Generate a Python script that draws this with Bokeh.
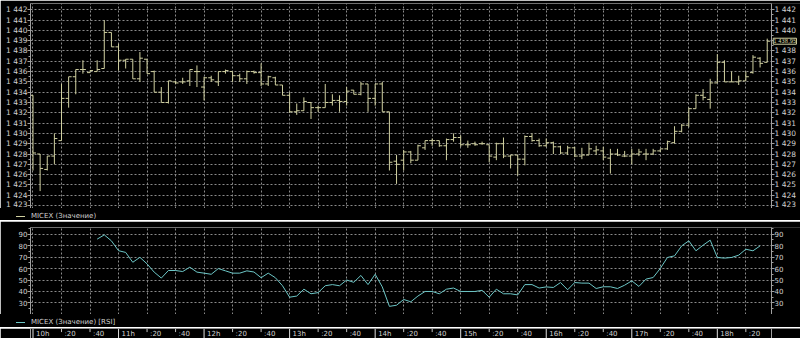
from bokeh.plotting import figure
from bokeh.layouts import column
from bokeh.models import (LinearAxis, FixedTicker, Grid, Label, Div, BoxAnnotation,
                          Range1d, ColumnDataSource)
from bokeh.embed import file_html
from bokeh.resources import INLINE
from bokeh.core.properties import value

# ---------------- data (5-minute bars, 10:00 .. 18:35) ----------------
opens = [1433.7, 1428.0, 1426.5, 1427.8, 1429.3, 1433.4, 1435.5, 1436.2, 1435.9, 1436.0,
         1436.3, 1439.8, 1438.4, 1437.1, 1437.2, 1435.3, 1437.2, 1436.0, 1434.0, 1433.0,
         1435.0, 1435.0, 1435.1, 1436.0, 1434.5, 1435.4, 1435.0, 1436.0, 1436.0, 1435.6,
         1435.3, 1436.0, 1435.9, 1434.8, 1435.4, 1434.7, 1433.7, 1432.1, 1432.2, 1433.0,
         1432.5, 1432.5, 1433.0, 1433.2, 1433.1, 1434.2, 1433.8, 1434.8, 1433.4, 1434.8,
         1432.1, 1427.3, 1427.4, 1428.2, 1427.4, 1428.6, 1429.3, 1429.3, 1428.8, 1429.4,
         1429.6, 1428.9, 1429.0, 1429.0, 1428.9, 1427.7, 1429.0, 1427.8, 1427.9, 1427.5,
         1429.7, 1429.3, 1428.8, 1429.1, 1428.7, 1428.1, 1428.6, 1427.8, 1427.9, 1428.3,
         1428.3, 1427.6, 1428.0, 1427.8, 1427.8, 1428.0, 1428.0, 1428.0, 1428.3, 1428.5,
         1429.1, 1430.2, 1430.8, 1432.4, 1433.7, 1433.3, 1434.9, 1436.9, 1435.0, 1435.0,
         1435.1, 1435.9, 1437.3, 1436.9]
highs = [1433.7, 1428.0, 1427.8, 1430.0, 1434.8, 1435.5, 1436.2, 1437.1, 1436.1, 1437.1,
         1441.0, 1439.8, 1438.7, 1437.2, 1437.2, 1437.9, 1437.2, 1436.1, 1434.5, 1435.1,
         1435.1, 1435.4, 1436.2, 1436.6, 1435.5, 1435.6, 1436.0, 1436.2, 1436.0, 1435.8,
         1436.1, 1436.1, 1436.8, 1435.6, 1435.5, 1434.7, 1434.0, 1432.9, 1433.5, 1433.0,
         1432.7, 1434.8, 1433.8, 1433.7, 1434.5, 1434.2, 1435.0, 1434.8, 1434.8, 1435.0,
         1432.1, 1427.9, 1428.4, 1428.3, 1428.9, 1429.3, 1429.5, 1429.3, 1429.5, 1430.0,
         1429.8, 1429.3, 1429.2, 1429.2, 1428.9, 1429.1, 1429.6, 1427.9, 1427.9, 1429.8,
         1430.0, 1429.5, 1429.5, 1429.2, 1428.8, 1428.8, 1428.7, 1428.6, 1429.1, 1428.8,
         1428.7, 1428.5, 1428.5, 1428.3, 1428.5, 1428.5, 1428.5, 1428.5, 1428.5, 1429.3,
         1430.7, 1430.9, 1432.5, 1433.8, 1434.3, 1435.3, 1437.7, 1437.1, 1436.0, 1435.6,
         1436.0, 1437.6, 1437.4, 1439.2]
lows = [1426.4, 1424.4, 1426.4, 1427.0, 1429.3, 1432.5, 1433.8, 1435.8, 1435.9, 1436.0,
        1436.3, 1438.4, 1436.1, 1436.3, 1435.3, 1435.0, 1435.8, 1434.0, 1433.0, 1432.9,
        1434.8, 1434.8, 1434.6, 1434.5, 1433.2, 1435.0, 1434.6, 1435.8, 1435.0, 1435.0,
        1434.8, 1435.8, 1434.6, 1434.6, 1434.7, 1433.7, 1432.0, 1431.8, 1432.2, 1431.4,
        1432.1, 1432.5, 1432.7, 1432.1, 1432.7, 1433.8, 1433.7, 1432.1, 1432.7, 1432.1,
        1426.4, 1425.1, 1426.4, 1427.1, 1427.4, 1428.4, 1428.8, 1428.7, 1427.4, 1429.2,
        1428.7, 1428.6, 1428.8, 1428.9, 1427.2, 1427.4, 1427.6, 1426.6, 1425.9, 1426.9,
        1429.2, 1428.7, 1428.7, 1428.0, 1428.0, 1427.9, 1427.7, 1427.5, 1427.9, 1427.9,
        1427.4, 1426.1, 1427.8, 1427.7, 1427.0, 1427.8, 1427.4, 1427.9, 1428.2, 1428.4,
        1429.0, 1430.1, 1430.6, 1432.4, 1433.2, 1432.4, 1434.9, 1435.0, 1435.0, 1434.7,
        1435.1, 1435.8, 1436.4, 1436.9]
closes = [1428.1, 1426.6, 1427.8, 1429.5, 1433.4, 1435.5, 1436.2, 1436.2, 1436.1, 1436.2,
          1439.8, 1438.4, 1437.1, 1437.2, 1435.3, 1437.3, 1435.8, 1434.0, 1433.0, 1435.1,
          1434.9, 1435.0, 1436.2, 1436.0, 1435.4, 1435.2, 1436.0, 1436.1, 1435.6, 1435.3,
          1436.0, 1435.9, 1434.8, 1435.5, 1434.7, 1433.7, 1432.1, 1432.2, 1433.1, 1432.5,
          1432.5, 1433.0, 1433.2, 1433.1, 1434.1, 1433.8, 1434.8, 1433.4, 1434.8, 1432.1,
          1427.2, 1427.0, 1428.2, 1427.4, 1428.8, 1429.3, 1429.3, 1428.8, 1429.4, 1429.6,
          1428.9, 1428.9, 1428.9, 1429.0, 1427.8, 1429.0, 1427.8, 1427.9, 1427.5, 1429.7,
          1429.3, 1428.8, 1429.1, 1428.7, 1428.1, 1428.6, 1427.8, 1427.9, 1428.5, 1428.4,
          1427.7, 1428.0, 1427.9, 1427.8, 1428.0, 1428.2, 1428.0, 1428.3, 1428.5, 1429.2,
          1430.2, 1430.8, 1432.4, 1433.7, 1433.5, 1434.9, 1436.9, 1435.0, 1435.0, 1435.1,
          1435.5, 1437.4, 1436.8, 1438.95]

rsi_start = 9
rsi_values = [85.7, 89.4, 84.2, 75.6, 74.1, 65.5, 69.8, 64.1, 56.9, 51.7,
              58.3, 58.3, 57.4, 61.2, 56.9, 56.0, 55.0, 60.0, 58.0, 56.0,
              56.0, 58.0, 57.0, 52.0, 56.0, 52.0, 45.0, 35.0, 36.0, 42.0,
              38.0, 39.0, 45.0, 46.0, 45.0, 50.0, 48.0, 54.0, 46.0, 55.0,
              44.0, 27.0, 28.0, 33.0, 31.0, 36.0, 40.0, 40.0, 38.0, 42.0,
              43.0, 40.0, 40.0, 40.0, 41.0, 35.0, 42.0, 38.0, 38.0, 37.0,
              46.0, 46.0, 43.0, 44.0, 43.5, 47.8, 41.5, 47.8, 47.3, 47.3,
              42.6, 44.1, 44.1, 42.6, 45.5, 49.3, 44.4, 50.8, 52.2, 60.1,
              69.7, 71.1, 79.8, 84.2, 75.5, 80.4, 84.8, 69.7, 69.1, 69.7,
              71.7, 76.9, 75.5, 79.8]

price_ticks = list(range(1423, 1443))
rsi_ticks = [30, 40, 50, 60, 70, 80, 90]
time_labels = ["10h", ":20", ":40", "11h", ":20", ":40", "12h", ":20", ":40",
               "13h", ":20", ":40", "14h", ":20", ":40", "15h", ":20", ":40",
               "16h", ":20", ":40", "17h", ":20", ":40", "18h", ":20"]
bars_per_label = 4  # 20 minutes of 5-minute bars

series_name = "MICEX (Значение)"
rsi_name = "MICEX (Значение) [RSI]"
last_label = "1 438,95"

# ---------------- style ----------------
BG = "#000000"
BAR = "#d0d0a0"
RSI_C = "#6cc6c6"
GRID_C = "#8a8a8a"
FRAME = "#a0a0a0"
TXT = "#d0d0d0"
FONT = "DejaVu Sans"

n = len(closes)
idx = list(range(n))
tick_pos = [k * bars_per_label for k in range(len(time_labels))]

# x mapping: plotting area 30..771 px, right-hand label strip 771..800 px
X_LO = -0.35
X_EDGE = 103.6
X_HI = X_LO + (X_EDGE - X_LO) * 770.0 / 741.0
xr = Range1d(X_LO, X_HI)


def fmt_price(v):
    s = str(v)
    return s[0] + " " + s[1:]


def make_fig(height, yr, top):
    p = figure(width=800, height=height, x_range=xr, y_range=yr,
               output_backend="svg", toolbar_location=None,
               x_axis_location=None, y_axis_location=None,
               background_fill_color=BG, border_fill_color=BG,
               outline_line_color=None,
               min_border_left=30, min_border_right=0,
               min_border_top=top, min_border_bottom=0)
    for g in p.grid:
        g.visible = False
    return p


def line_axis(loc, bounds=None):
    kw = dict(ticker=FixedTicker(ticks=[]), axis_line_color=FRAME,
              major_tick_out=0, major_tick_in=0, minor_tick_out=0, minor_tick_in=0,
              major_label_text_font_size="0px")
    if loc is not None:
        kw["fixed_location"] = loc
    if bounds is not None:
        kw["bounds"] = bounds
    return LinearAxis(**kw)


def add_borders(p, y_lo, y_hi, left_axis=True):
    p.add_layout(line_axis(y_hi, (X_LO, X_EDGE)), "above")
    p.add_layout(line_axis(y_lo, (X_LO, X_EDGE)), "below")
    if left_axis:
        p.add_layout(line_axis(None), "left")
    p.add_layout(line_axis(X_EDGE), "right")


def add_axes(p, ticks, minor, overrides_l, overrides_r, fs):
    for side, ov in (("left", overrides_l), ("right", overrides_r)):
        kw = dict(ticker=FixedTicker(ticks=ticks, minor_ticks=minor),
                  major_label_overrides=ov,
                  axis_line_color=FRAME, major_tick_line_color=FRAME,
                  minor_tick_line_color=FRAME,
                  major_tick_out=3, major_tick_in=0,
                  minor_tick_out=2, minor_tick_in=0,
                  major_label_standoff=0,
                  major_label_text_color=TXT,
                  major_label_text_font=FONT,
                  major_label_text_font_size=fs)
        if side == "right":
            kw["fixed_location"] = X_EDGE
        p.add_layout(LinearAxis(**kw), side)


def add_grids(p, yticks):
    p.add_layout(Grid(dimension=0, ticker=FixedTicker(ticks=tick_pos),
                      grid_line_color=GRID_C, grid_line_dash="2 2"))
    p.add_layout(Grid(dimension=1, ticker=FixedTicker(ticks=yticks),
                      grid_line_color=GRID_C, grid_line_dash="2 2"))
    # keep the right-hand label strip clear of grid dots
    p.add_layout(BoxAnnotation(left=X_EDGE, fill_color=BG, fill_alpha=1.0,
                               line_color=None, level="underlay"))


def legend_row(height, label, color, pad_top):
    html = ('<div style="background:#000;color:%s;font-family:\'DejaVu Sans\';'
            'font-size:7px;line-height:%dpx;height:%dpx;padding-top:%dpx;'
            'width:800px;white-space:nowrap;overflow:hidden;box-sizing:border-box">'
            '<span style="display:inline-block;width:9px;height:0;'
            'border-top:1px solid %s;vertical-align:middle;margin-left:16px;'
            'margin-right:6px"></span>%s</div>'
            % (TXT, height - pad_top, height, pad_top, color, label))
    return Div(text=html, width=800, height=height, margin=0,
               styles={"background-color": "#000000"})


# ---------------- price panel ----------------
PY_LO, PY_HI = 1422.71, 1442.61
p1 = make_fig(208, Range1d(PY_LO, PY_HI), 3)
add_grids(p1, price_ticks)
add_borders(p1, PY_LO, PY_HI, left_axis=False)
lab_l = {t: fmt_price(t) for t in price_ticks}
lab_r = {t: (fmt_price(t) if t != 1439 else "") for t in price_ticks}
add_axes(p1, price_ticks, [t + 0.5 for t in price_ticks[:-1]], lab_l, lab_r, "7.5px")

src = ColumnDataSource(dict(x=idx, o=opens, h=highs, l=lows, c=closes,
                            xl=[i - 0.42 for i in idx], xr=[i + 0.42 for i in idx]))
p1.segment(x0="x", y0="l", x1="x", y1="h", source=src, line_color=BAR, line_width=1)
p1.segment(x0="xl", y0="o", x1="x", y1="o", source=src, line_color=BAR, line_width=1)
p1.segment(x0="x", y0="c", x1="xr", y1="c", source=src, line_color=BAR, line_width=1)

p1.add_layout(Label(x=idx[-1], y=closes[-1], x_offset=6, text=last_label,
                    text_baseline="middle", text_color=BAR,
                    text_font="DejaVu Sans Condensed", text_font_size="5.8px",
                    border_line_color=BAR, background_fill_color=BG))

leg1 = legend_row(12, series_name, BAR, 4)

# ---------------- separator ----------------
sep = figure(width=800, height=1, output_backend="svg", toolbar_location=None,
             x_axis_location=None, y_axis_location=None,
             background_fill_color="#ffffff", border_fill_color="#ffffff",
             outline_line_color=None, min_border=0)

# ---------------- RSI panel ----------------
RY_LO, RY_HI = 19.9, 95.85
p2 = make_fig(93, Range1d(RY_LO, RY_HI), 6)
add_grids(p2, rsi_ticks)
add_borders(p2, RY_LO, RY_HI, left_axis=False)
add_axes(p2, rsi_ticks, [25, 35, 45, 55, 65, 75, 85, 95],
         {t: str(t) for t in rsi_ticks}, {t: str(t) for t in rsi_ticks}, "7px")
rsi_x = list(range(rsi_start, rsi_start + len(rsi_values)))
p2.line(rsi_x, rsi_values, line_color=RSI_C, line_width=1)

leg2 = legend_row(13, rsi_name, RSI_C, 4)

# ---------------- time strip ----------------
p3 = make_fig(11, Range1d(-0.08, 1), 0)
add_borders(p3, 0, 1, left_axis=True)
hour_pos = [tick_pos[k] for k, t in enumerate(time_labels) if t.endswith("h")]
min_pos = [tick_pos[k] for k, t in enumerate(time_labels) if not t.endswith("h")]
p3.segment(x0=hour_pos, y0=[0] * len(hour_pos), x1=hour_pos, y1=[1] * len(hour_pos),
           line_color="#e0e0e0", line_width=1)
p3.segment(x0=min_pos, y0=[1] * len(min_pos), x1=min_pos, y1=[0.65] * len(min_pos),
           line_color="#c0c0c0", line_width=1)
p3.text(x=tick_pos, y=[0.45] * len(tick_pos), text=time_labels, x_offset=3,
        text_baseline="middle", text_align="left", text_color=TXT,
        text_font=value(FONT), text_font_size="7px")

layout = column(p1, leg1, sep, p2, leg2, p3, spacing=0)
open("out.html", "w").write(file_html(layout, INLINE))
